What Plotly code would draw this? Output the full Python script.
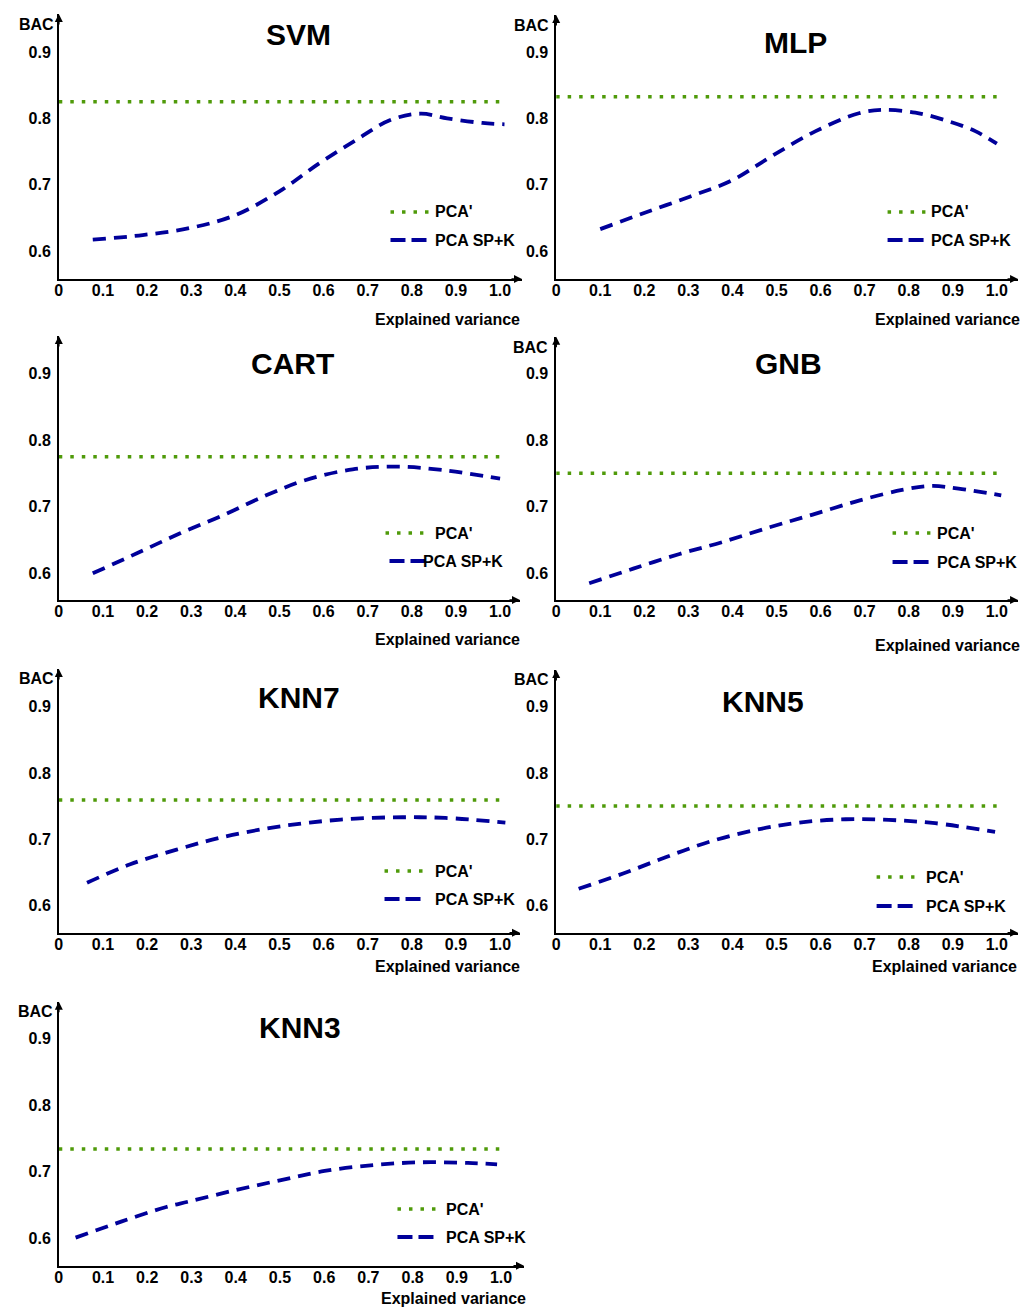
import plotly.graph_objects as go

W, H = 1035, 1307
FONT = "Liberation Sans, Arial, sans-serif"
GREEN = "#4f9a0a"
BLUE = "#00009a"

# ---------------- data ----------------
panels = ["SVM", "MLP", "CART", "GNB", "KNN7", "KNN5", "KNN3"]

x_ticks = [0, 0.1, 0.2, 0.3, 0.4, 0.5, 0.6, 0.7, 0.8, 0.9, 1.0]
x_ticktext = ["0", "0.1", "0.2", "0.3", "0.4", "0.5", "0.6", "0.7", "0.8", "0.9", "1.0"]
y_ticks = [0.6, 0.7, 0.8, 0.9]
y_ticktext = ["0.6", "0.7", "0.8", "0.9"]

# PCA' (constant baseline) per classifier
pca_prime = {"SVM": 0.825, "MLP": 0.833, "CART": 0.775, "GNB": 0.750,
             "KNN7": 0.759, "KNN5": 0.750, "KNN3": 0.734}
pca_prime_end = {"SVM": 1.01, "MLP": 1.0, "CART": 1.01, "GNB": 1.0,
                 "KNN7": 1.01, "KNN5": 1.0, "KNN3": 1.01}

# PCA SP+K curves
svm_x = [0.077, 0.19, 0.30, 0.40, 0.50, 0.59, 0.673, 0.75, 0.82, 0.88, 0.96, 1.01]
svm_y = [0.617, 0.624, 0.635, 0.654, 0.690, 0.732, 0.767, 0.797, 0.807, 0.800, 0.793, 0.791]

mlp_x = [0.10, 0.198, 0.303, 0.40, 0.491, 0.589, 0.687, 0.74, 0.815, 0.89, 0.951, 1.0]
mlp_y = [0.633, 0.657, 0.682, 0.707, 0.744, 0.781, 0.808, 0.813, 0.809, 0.796, 0.781, 0.762]

cart_x = [0.077, 0.177, 0.275, 0.372, 0.47, 0.56, 0.666, 0.764, 0.869, 1.0]
cart_y = [0.600, 0.630, 0.660, 0.687, 0.717, 0.740, 0.756, 0.760, 0.755, 0.742]

gnb_x = [0.075, 0.175, 0.28, 0.378, 0.484, 0.582, 0.687, 0.785, 0.853, 0.913, 1.01]
gnb_y = [0.585, 0.607, 0.629, 0.647, 0.669, 0.688, 0.709, 0.725, 0.731, 0.727, 0.717]

knn7_x = [0.064, 0.162, 0.267, 0.365, 0.47, 0.568, 0.673, 0.779, 0.876, 1.012]
knn7_y = [0.634, 0.662, 0.684, 0.702, 0.716, 0.725, 0.731, 0.733, 0.732, 0.725]

knn5_x = [0.051, 0.152, 0.25, 0.348, 0.454, 0.552, 0.657, 0.755, 0.86, 0.996]
knn5_y = [0.625, 0.648, 0.673, 0.696, 0.714, 0.725, 0.730, 0.729, 0.724, 0.711]

knn3_x = [0.038, 0.141, 0.243, 0.293, 0.398, 0.50, 0.601, 0.714, 0.819, 0.925, 0.991]
knn3_y = [0.601, 0.625, 0.647, 0.655, 0.672, 0.687, 0.701, 0.710, 0.714, 0.713, 0.711]

curves = {"SVM": (svm_x, svm_y), "MLP": (mlp_x, mlp_y), "CART": (cart_x, cart_y),
          "GNB": (gnb_x, gnb_y), "KNN7": (knn7_x, knn7_y), "KNN5": (knn5_x, knn5_y),
          "KNN3": (knn3_x, knn3_y)}

legend_names = ["PCA'", "PCA SP+K"]

# ---------------- layout geometry (pixels) ----------------
geom = {
    "SVM":  dict(x0=55, x1=498, xtip=520, yax=279, y09=52, y06=251, ytop=14),
    "MLP":  dict(x0=554.3, x1=996.7, xtip=1018, yax=279, y09=52.3, y06=251, ytop=15),
    "CART": dict(x0=55, x1=498, xtip=518, yax=600, y09=373.3, y06=573.3, ytop=336),
    "GNB":  dict(x0=554.3, x1=996.7, xtip=1018, yax=600, y09=373.3, y06=573.3, ytop=336.7),
    "KNN7": dict(x0=55, x1=498, xtip=518, yax=932.7, y09=706.7, y06=905.3, ytop=669),
    "KNN5": dict(x0=554.3, x1=996.7, xtip=1018, yax=932.7, y09=706.7, y06=905.3, ytop=670),
    "KNN3": dict(x0=55, x1=499, xtip=522, yax=1265.7, y09=1038.3, y06=1238.3, ytop=1001.7),
}
titles_pos = {"SVM": (296, 35), "MLP": (795, 42), "CART": (290, 363), "GNB": (788, 363),
              "KNN7": (296, 697), "KNN5": (762, 701), "KNN3": (297, 1027)}
bac_pos = {"SVM": (52, 24), "MLP": (549, 25), "GNB": (548, 347),
           "KNN7": (52, 678), "KNN5": (549, 679), "KNN3": (51, 1011)}
ev_pos = {"SVM": (520, 319), "MLP": (1022, 319), "CART": (520, 639), "GNB": (1022, 645),
          "KNN7": (520, 966), "KNN5": (1019, 966), "KNN3": (526, 1298)}
leg = {
    "SVM":  (212, 240, 388, 427, 431, 388, 427, 431),
    "MLP":  (212, 240, 887, 925, 929, 887, 925, 929),
    "CART": (533, 561, 383, 421, 431, 387, 427, 419),
    "GNB":  (533, 562, 892, 930, 935, 892, 930, 935),
    "KNN7": (871, 899, 382, 421, 431, 382, 421, 431),
    "KNN5": (877, 906, 876, 914, 924, 876, 914, 924),
    "KNN3": (1209, 1237, 395, 434, 442, 395, 434, 442),
}

def px(v):
    return v / W

def py(v):
    return 1 - v / H

GREEN_DASH = "3.5px,8px"
BLUE_DASH = "13px,8px"

fig = go.Figure()
annotations = []
shapes = []
tickfont = dict(family=FONT, size=16, color="black", weight="bold")

for i, name in enumerate(panels):
    g = geom[name]
    k = "" if i == 0 else str(i + 1)
    xs = (g["x1"] - g["x0"])
    ys = (g["y06"] - g["y09"]) / 0.3
    xr = [0, (g["xtip"] - g["x0"]) / xs]
    yr = [0.6 - (g["yax"] - g["y06"]) / ys, 0.9 + (g["y09"] - g["ytop"]) / ys]
    fig.layout["xaxis" + k] = dict(
        domain=[px(g["x0"]), px(g["xtip"])], range=xr, anchor="y" + k,
        tickvals=x_ticks, ticktext=x_ticktext, ticks="", showgrid=False, zeroline=False,
        showline=True, linecolor="black", linewidth=1.6, tickfont=tickfont,
        fixedrange=True, ticklabelstandoff=-4)
    fig.layout["yaxis" + k] = dict(
        domain=[py(g["yax"]), py(g["ytop"])], range=yr, anchor="x" + k,
        tickvals=y_ticks, ticktext=y_ticktext, ticks="", showgrid=False, zeroline=False,
        showline=True, linecolor="black", linewidth=1.6, tickfont=tickfont,
        fixedrange=True, ticklabelstandoff=3)

    fig.add_trace(go.Scatter(
        x=[0, pca_prime_end[name]], y=[pca_prime[name]] * 2, mode="lines",
        line=dict(color=GREEN, width=3.5, dash=GREEN_DASH),
        xaxis="x" + k, yaxis="y" + k, showlegend=False, name=legend_names[0]))
    cx, cy = curves[name]
    fig.add_trace(go.Scatter(
        x=cx, y=cy, mode="lines",
        line=dict(color=BLUE, width=3.8, dash=BLUE_DASH, shape="spline", smoothing=1.0),
        xaxis="x" + k, yaxis="y" + k, showlegend=False, name=legend_names[1]))

    annotations.append(dict(x=px(g["xtip"]), y=py(g["yax"]), xref="paper", yref="paper",
                            text="", showarrow=True, ax=-12, ay=0, arrowhead=2,
                            arrowsize=1, arrowwidth=1.6, arrowcolor="black", standoff=0))
    annotations.append(dict(x=px(g["x0"]), y=py(g["ytop"]), xref="paper", yref="paper",
                            text="", showarrow=True, ax=0, ay=12, arrowhead=2,
                            arrowsize=1, arrowwidth=1.6, arrowcolor="black", standoff=0))

    tx, ty = titles_pos[name]
    annotations.append(dict(x=px(tx), y=py(ty), xref="paper", yref="paper", text=name,
                            showarrow=False, xanchor="center", yanchor="middle",
                            font=dict(family=FONT, size=30, color="black", weight="bold")))
    if name in bac_pos:
        bx, by = bac_pos[name]
        annotations.append(dict(x=px(bx), y=py(by), xref="paper", yref="paper", text="BAC",
                                showarrow=False, xanchor="right", yanchor="middle",
                                font=dict(family=FONT, size=16, color="black", weight="bold")))
    ex, ey = ev_pos[name]
    annotations.append(dict(x=px(ex), y=py(ey), xref="paper", yref="paper",
                            text="Explained variance", showarrow=False,
                            xanchor="right", yanchor="middle",
                            font=dict(family=FONT, size=16, color="black", weight="bold")))
    gy, byy, gx0, gx1, gtx, bx0, bx1, btx = leg[name]
    shapes.append(dict(type="line", xref="paper", yref="paper", x0=px(gx0), x1=px(gx1),
                       y0=py(gy), y1=py(gy), line=dict(color=GREEN, width=3.5, dash=GREEN_DASH)))
    shapes.append(dict(type="line", xref="paper", yref="paper", x0=px(bx0), x1=px(bx1),
                       y0=py(byy), y1=py(byy), line=dict(color=BLUE, width=3.8, dash="15px,6px")))
    annotations.append(dict(x=px(gtx), y=py(gy), xref="paper", yref="paper", text=legend_names[0],
                            showarrow=False, xanchor="left", yanchor="middle",
                            font=dict(family=FONT, size=16, color="black", weight="bold")))
    annotations.append(dict(x=px(btx), y=py(byy), xref="paper", yref="paper", text=legend_names[1],
                            showarrow=False, xanchor="left", yanchor="middle",
                            font=dict(family=FONT, size=16, color="black", weight="bold")))

fig.update_layout(
    width=W, height=H, margin=dict(l=0, r=0, t=0, b=0),
    paper_bgcolor="white", plot_bgcolor="white", showlegend=False,
    annotations=annotations, shapes=shapes,
    font=dict(family=FONT, size=16, color="black"),
)

fig.write_html("out.html", config={"displayModeBar": False})
